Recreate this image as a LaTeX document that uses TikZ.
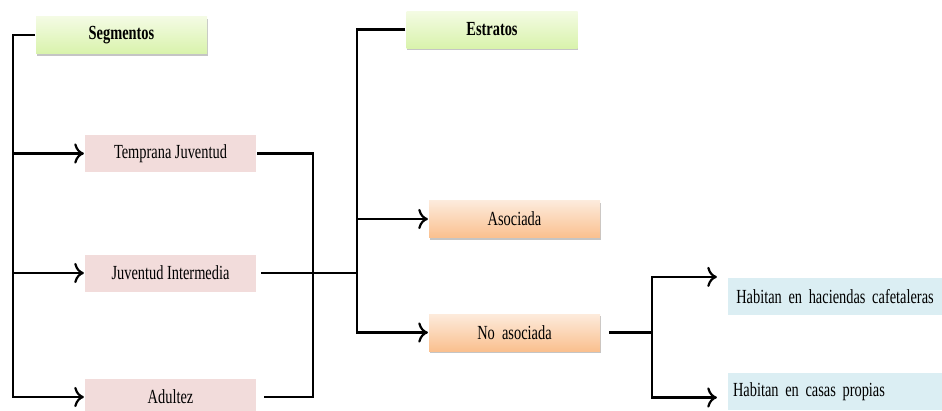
\documentclass[tikz,border=0pt]{standalone}
\usepackage{fontspec}
\setmainfont{Liberation Serif}
\newfontfamily\narrowserif[FakeStretch=0.72]{Liberation Serif}
\usetikzlibrary{arrows,arrows.meta,shadows,positioning}

\definecolor{greenTop}{HTML}{F4FBE4}
\definecolor{greenBot}{HTML}{D9F3AC}
\definecolor{orangeTop}{HTML}{FDEBDC}
\definecolor{orangeBot}{HTML}{FAC08F}
\definecolor{pinkFill}{HTML}{F2DCDB}
\definecolor{blueFill}{HTML}{DBEEF3}

\tikzset{
    box/.style={minimum width=171pt, minimum height=37pt, inner sep=0pt,
        font=\narrowserif\fontsize{20}{22}\selectfont},
    headbox/.style={box, top color=greenTop, bottom color=greenBot,
        font=\narrowserif\fontsize{20}{22}\selectfont\bfseries,
        drop shadow={shadow xshift=0.5pt, shadow yshift=-2pt, fill=black!45, opacity=.5}},
    agebox/.style={box, fill=pinkFill},
    kindbox/.style={box, top color=orangeTop, bottom color=orangeBot,
        drop shadow={shadow xshift=0.5pt, shadow yshift=-2pt, fill=black!45, opacity=.5}},
    homebox/.style={box, fill=blueFill, minimum width=214pt, text width=204pt, inner xsep=5pt}
}

\begin{document}
\begin{tikzpicture}[x=1pt, y=-1pt, line width=2.2pt, >={To[scale=1.5]}]
    \useasboundingbox (0,0) rectangle (942,410);
    \node[headbox] (Seg) at (121.5,35) {Segmentos};
    \node[headbox] (Est) at (492,29.5) {Estratos};
    \node[agebox] (TJ) at (170.5,153.5) {Temprana Juventud};
    \node[agebox] (JI) at (170.5,273) {Juventud Intermedia};
    \node[agebox] (Ad) at (170.5,397) {Adultez};
    \node[kindbox] (As) at (514.5,219) {Asociada};
    \node[kindbox] (NA) at (514.5,332.5) {No~~asociada};
    \node[homebox, align=center] (HC) at (835,296.5) {Habitan en haciendas cafetaleras};
    \node[homebox, align=left] (CP) at (835,391.5) {Habitan en casas propias};
    \coordinate (T1) at (13,0);
    \coordinate (T2) at (313,0);
    \coordinate (T3) at (357,0);
    \coordinate (T4) at (652,0);
    % segmentos
    \path[draw] (Seg.west) -| (T1 |- TJ);
    \path[draw, ->] (T1 |- TJ) -- (TJ.west);
    \path[draw, ->] (T1 |- JI) -- (JI.west);
    \path[draw, ->] (T1 |- TJ) |- (Ad.west);
    \path[draw] (TJ.east) -| (T2 |- Ad) -- ([xshift=7pt]Ad.east);
    \path[draw] ([xshift=4pt]JI.east) -- (T3 |- JI);
    % estratos
    \path[draw, ->] (Est.west) -| (T3 |- NA) -- (NA.west);
    \path[draw, ->] (T3 |- As) -- (As.west);
    \path[draw] ([xshift=8pt]NA.east) -- (T4 |- NA);
    \path[draw, ->] (T4 |- NA) |- ([xshift=-10pt]HC.north west);
    \path[draw, ->] (T4 |- NA) |- ([shift={(-10,6)}]CP.west);
\end{tikzpicture}
\end{document}
